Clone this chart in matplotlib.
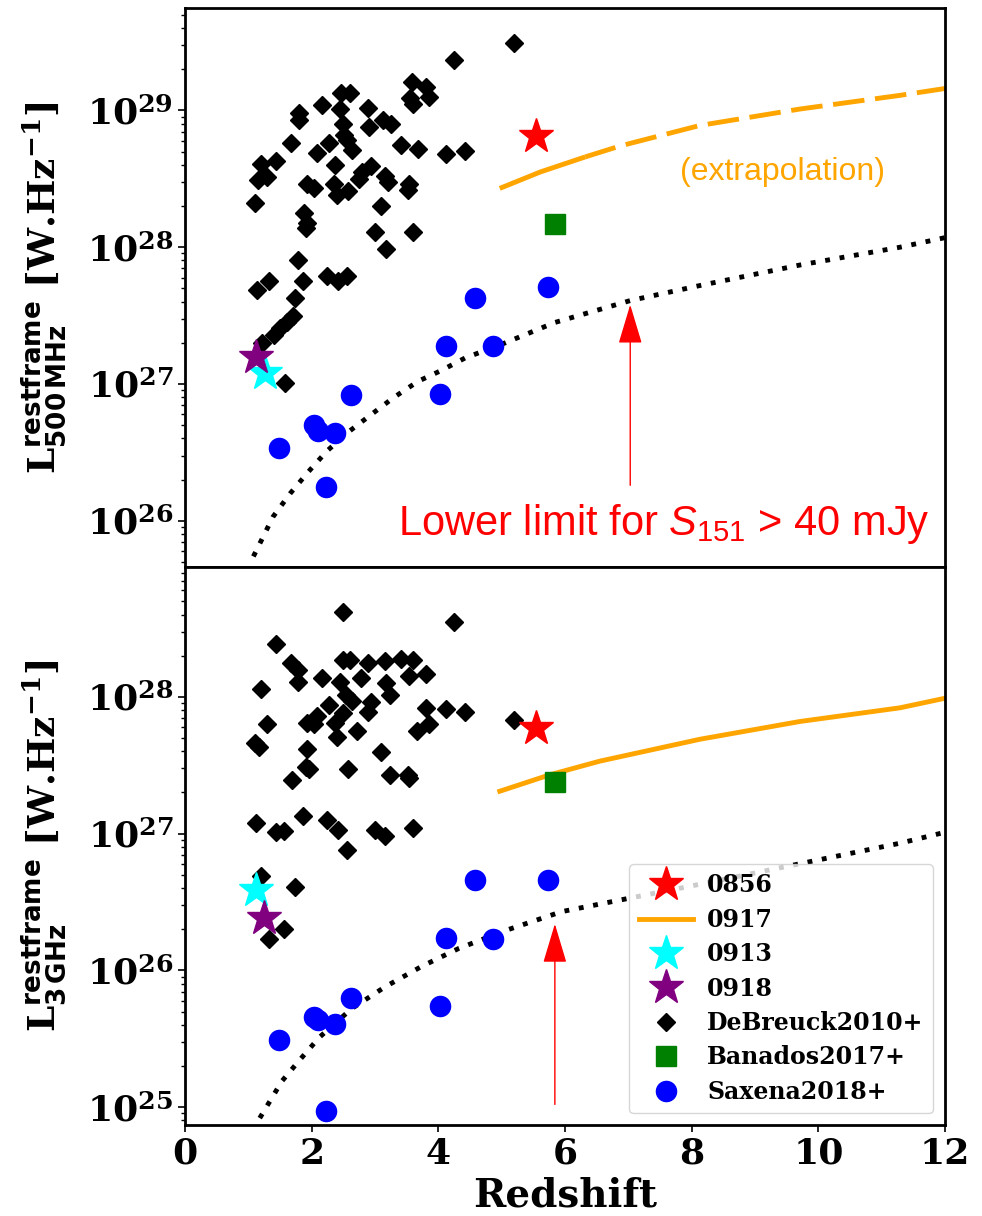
import numpy as np
import matplotlib
matplotlib.use("Agg")
import matplotlib.pyplot as plt
from matplotlib.patches import ArrowStyle

plt.rcParams['font.family'] = ['DejaVu Serif']
plt.rcParams['font.weight'] = 'bold'
plt.rcParams['axes.labelweight'] = 'bold'
plt.rcParams['mathtext.fontset'] = 'custom'
plt.rcParams['mathtext.rm'] = 'Liberation Sans:weight=normal'
plt.rcParams['mathtext.it'] = 'Liberation Sans:style=italic:weight=normal'
plt.rcParams['mathtext.bf'] = 'DejaVu Serif:bold'
plt.rcParams['mathtext.sf'] = 'DejaVu Sans:bold'

# ---------------- data (log10 luminosity in W/Hz) ----------------
# DeBreuck2010+ (500 MHz)
db_z_500 = [5.20, 4.25, 3.58, 3.80, 3.86, 3.56, 3.60, 2.47, 2.61, 2.17, 2.45, 1.80, 1.80,
            2.89, 2.50, 3.13, 3.25, 2.91, 2.51, 2.55, 1.67, 2.27, 2.64, 2.08, 3.41, 3.68,
            4.12, 4.42, 1.43, 1.20, 2.37, 1.29, 1.15, 2.94, 2.79, 2.74, 3.15, 3.21, 3.53,
            3.52, 1.92, 2.04, 2.36, 2.40, 2.58, 1.11, 3.09, 1.88, 1.92, 1.91, 3.00, 3.60,
            3.17, 1.79, 1.32, 1.13, 1.87, 2.24, 2.41, 2.56, 1.74, 1.71, 1.61, 1.50, 1.41,
            1.21, 1.58]
db_logL_500 = [29.49, 29.37, 29.21, 29.17, 29.10, 29.09, 29.05, 29.13, 29.13, 29.04, 29.01,
               28.98, 28.93, 29.02, 28.90, 28.93, 28.90, 28.88, 28.82, 28.78, 28.76, 28.76,
               28.71, 28.69, 28.75, 28.72, 28.68, 28.70, 28.63, 28.61, 28.60, 28.51, 28.49,
               28.59, 28.55, 28.50, 28.52, 28.48, 28.46, 28.42, 28.46, 28.43, 28.46, 28.38,
               28.41, 28.32, 28.30, 28.25, 28.18, 28.14, 28.11, 28.11, 27.99, 27.91, 27.75,
               27.69, 27.75, 27.79, 27.75, 27.79, 27.63, 27.50, 27.45, 27.41, 27.36, 27.30,
               27.005]
# DeBreuck2010+ (3 GHz)
db_z_3 = [2.49, 4.25, 1.43, 1.67, 1.79, 1.79, 2.17, 2.45, 2.50, 2.61, 2.89, 3.15, 3.41,
          3.60, 3.54, 3.80, 2.78, 3.17, 3.23, 1.20, 2.54, 2.63, 2.27, 2.94, 2.89, 2.50,
          3.80, 4.12, 4.42, 5.20, 2.08, 1.92, 2.03, 2.37, 2.40, 2.72, 1.29, 1.11, 1.17,
          3.67, 3.85, 1.92, 3.09, 1.91, 1.95, 2.58, 1.69, 3.23, 3.52, 3.54, 1.12, 1.43,
          1.57, 1.86, 2.24, 2.41, 3.00, 3.16, 3.60, 2.55, 1.20, 1.74, 1.57, 1.33]
db_logL_3 = [28.62, 28.55, 28.39, 28.25, 28.20, 28.11, 28.14, 28.11, 28.27, 28.27, 28.25,
             28.26, 28.28, 28.27, 28.15, 28.17, 28.14, 28.10, 28.01, 28.06, 28.01, 27.97,
             27.94, 27.96, 27.89, 27.88, 27.92, 27.91, 27.89, 27.83, 27.86, 27.81, 27.80,
             27.81, 27.71, 27.75, 27.80, 27.66, 27.63, 27.75, 27.80, 27.62, 27.60, 27.49,
             27.47, 27.47, 27.39, 27.43, 27.43, 27.41, 27.08, 27.01, 27.02, 27.13, 27.10,
             27.03, 27.03, 26.98, 27.04, 26.88, 26.69, 26.61, 26.30, 26.23]
# Saxena2018+
sx_z = [4.58, 5.73, 4.12, 4.87, 4.02, 2.62, 2.04, 2.10, 2.37, 1.48, 2.22]
sx_logL_500 = [27.63, 27.71, 27.28, 27.28, 26.93, 26.92, 26.70, 26.66, 26.64, 26.53, 26.25]
sx_logL_3 = [26.66, 26.66, 26.24, 26.23, 25.74, 25.80, 25.66, 25.64, 25.61, 25.49, 24.97]
# Banados2017+
bn_z = [5.84]
bn_logL_500 = [28.17]
bn_logL_3 = [27.38]
# individual sources: 0856, 0913, 0918
s0856_z, s0856_500, s0856_3 = [5.55], [28.81], [27.77]
s0913_z, s0913_500, s0913_3 = [1.26], [27.08], [26.59]
s0918_z, s0918_500, s0918_3 = [1.12], [27.20], [26.38]
s0913_z3, s0918_z3 = [1.12], [1.25]
# 0917 track
t0917_z_solid = [4.97, 5.61, 6.32]
t0917_500_solid = [28.43, 28.55, 28.66]
t0917_z_dash = [6.32, 6.87, 8.13, 9.71, 11.29, 12.0]
t0917_500_dash = [28.66, 28.74, 28.89, 29.01, 29.11, 29.16]
t0917_z3 = [4.97, 5.76, 6.55, 8.13, 9.71, 11.29, 12.0]
t0917_3 = [27.31, 27.43, 27.53, 27.69, 27.82, 27.92, 27.99]
# lower limit curves for S151 > 40 mJy
lim_z_500 = [1.08, 1.39, 1.66, 1.95, 2.24, 2.58, 2.92, 3.29, 3.68, 4.05, 4.42, 5.05, 5.84,
             7.03, 8.13, 9.71, 11.29, 12.0]
lim_500 = [25.74, 26.03, 26.20, 26.36, 26.51, 26.65, 26.77, 26.90, 27.02, 27.10, 27.19,
           27.30, 27.45, 27.61, 27.72, 27.87, 28.00, 28.07]
lim_z_3 = [1.18, 1.53, 1.82, 2.12, 2.63, 3.16, 3.74, 4.32, 5.05, 5.95, 8.13, 9.71, 11.29, 12.0]
lim_3 = [24.92, 25.19, 25.35, 25.51, 25.72, 25.88, 26.03, 26.16, 26.29, 26.43, 26.63, 26.78,
         26.93, 27.01]
# arrows (z, log L from, log L to)
arrow_top = (7.03, 26.26, 27.58)
arrow_bot = (5.84, 25.02, 26.34)

p = lambda a: 10 ** np.asarray(a, dtype=float)

fig = plt.figure(figsize=(9.82, 12.16), dpi=100)
ax1 = fig.add_axes([0.1884, 0.5337, 0.7739, 0.4597])
ax2 = fig.add_axes([0.1884, 0.0748, 0.7739, 0.4589])

DIA = dict(marker='D', color='black', ms=9.3, ls='none')
STAR = 26
for ax, dbz, dbl, sxl, bnl, t, l913, l918, z913, z918, lz, ll in [
        (ax1, db_z_500, db_logL_500, sx_logL_500, bn_logL_500, s0856_500, s0913_500, s0918_500,
         s0913_z, s0918_z, lim_z_500, lim_500),
        (ax2, db_z_3, db_logL_3, sx_logL_3, bn_logL_3, s0856_3, s0913_3, s0918_3,
         s0913_z3, s0918_z3, lim_z_3, lim_3)]:
    ax.plot(lz, p(ll), color='black', lw=3.5, dashes=(1, 2.0), zorder=2)
    ax.plot(dbz, p(dbl), label='DeBreuck2010+', zorder=3, **DIA)
    ax.plot(bn_z, p(bnl), marker='s', color='green', ms=14, ls='none', label='Banados2017+', zorder=3)
    ax.plot(sx_z, p(sxl), marker='o', color='blue', ms=14.5, ls='none', label='Saxena2018+', zorder=3)
    ax.plot(s0856_z, p(t), marker='*', color='red', ms=STAR, ls='none', label='0856', zorder=4)
    ax.plot(z913, p(l913), marker='*', color='cyan', ms=STAR, ls='none', label='0913', zorder=4)
    ax.plot(z918, p(l918), marker='*', color='purple', ms=STAR, ls='none', label='0918', zorder=5)

ax1.plot(t0917_z_solid, p(t0917_500_solid), color='orange', lw=3.5, solid_capstyle='butt', zorder=2)
ax1.plot(t0917_z_dash, p(t0917_500_dash), color='orange', lw=3.5, dashes=(6.5, 2.2), zorder=2)
ax2.plot(t0917_z3, p(t0917_3), color='orange', lw=3.5, label='0917', zorder=2)

for ax, ylim in [(ax1, (4.6e25, 5.6e29)), (ax2, (7.4e24, 8.9e28))]:
    ax.set_yscale('log')
    ax.set_xlim(0, 12)
    ax.set_ylim(*ylim)
    for s in ax.spines.values():
        s.set_linewidth(2)
    ax.tick_params(axis='both', which='major', labelsize=26, length=5, width=1.2)
    ax.tick_params(axis='y', which='minor', length=3, width=1)

ax1.tick_params(axis='x', which='both', bottom=False, labelbottom=False)
ax2.set_xticks([0, 2, 4, 6, 8, 10, 12])
ax2.set_xlabel('Redshift', fontsize=28, fontweight='bold', labelpad=4)

ax1.set_ylabel(r'$\mathbf{L}_{\mathsf{500\,MHz}}^{\mathsf{restframe}}$ [W.Hz$^{\mathbf{-1}}$]',
               fontsize=27, fontweight='bold')
ax2.set_ylabel(r'$\mathbf{L}_{\mathsf{3\,GHz}}^{\mathsf{restframe}}$ [W.Hz$^{\mathbf{-1}}$]',
               fontsize=27, fontweight='bold')
ax1.yaxis.set_label_coords(-0.154, 0.5)
ax2.yaxis.set_label_coords(-0.154, 0.5)

# arrows
for ax, (az, a0, a1) in [(ax1, arrow_top), (ax2, arrow_bot)]:
    ax.annotate('', xy=(az, 10 ** a1), xytext=(az, 10 ** a0),
                arrowprops=dict(arrowstyle=ArrowStyle('-|>', head_length=1.0, head_width=0.3),
                                mutation_scale=25, color='red', lw=1, shrinkA=0, shrinkB=0))

ax1.text(0.280, 0.057, r'Lower limit for $S_{151}$ > 40 mJy', transform=ax1.transAxes,
         color='red', fontsize=30, fontfamily='Liberation Sans', fontweight='normal',
         ha='left', va='baseline')
ax1.text(7.82, 10 ** 28.55, '(extrapolation)', color='orange', fontsize=23,
         fontfamily='Liberation Sans', fontweight='normal', ha='left', va='center')

h, lab = ax2.get_legend_handles_labels()
order = ['0856', '0917', '0913', '0918', 'DeBreuck2010+', 'Banados2017+', 'Saxena2018+']
hd = dict(zip(lab, h))
ax2.legend([hd[k] for k in order], order, loc='lower right', fontsize=17,
           handlelength=2.3, borderpad=0.4, labelspacing=0.44, handletextpad=0.6)

fig.savefig('out.png', dpi=100)
